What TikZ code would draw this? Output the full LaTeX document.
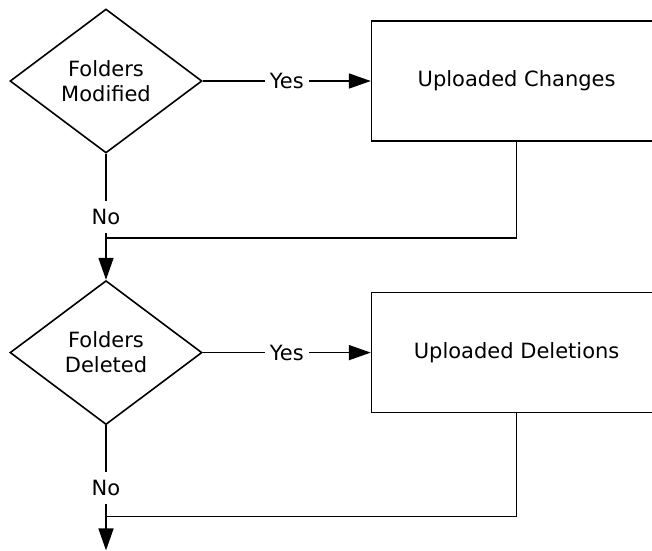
\documentclass[tikz,border=0pt]{standalone}
\usepackage{fontspec}
\setmainfont{DejaVu Sans}
\usetikzlibrary{shapes.geometric,positioning,arrows.meta}

\begin{document}
\begin{tikzpicture}[x=1pt, y=1pt,
    font=\fontsize{21}{25}\selectfont,
    line width=1.6pt,
    >={Triangle[length=22pt,width=15pt]},
    decision/.style={diamond, draw, aspect=1.333,
                     minimum width=192pt, minimum height=144pt,
                     inner sep=0pt, align=center},
    process/.style={rectangle, draw,
                    minimum width=290pt, minimum height=120pt},
    answer/.style={fill=white, inner xsep=5pt, inner ysep=8pt}]
   \clip (0,0) rectangle (652,-550);
   \node[decision] (fm) at (106,-81) {Folders\\Modified};
   \node[process,
         right=168pt of fm] (uc) {Uploaded Changes};
   \node[decision,
         below=126pt of fm] (fd) {Folders\\Deleted};
   \node[process,
         right=168pt of fd] (ud) {Uploaded Deletions};
   \coordinate[below=84pt of fm.south] (j1);
   \coordinate[below=91pt of fd.south] (j2);
   \coordinate[below=125pt of fd.south] (out);
   % yes / no branches
   \draw[->] (fm.east) -- node[answer] {Yes} (uc.west);
   \draw[->] (fm.south) -- node[answer] {No} (fd.north);
   \draw[->] (fd.east) -- node[answer] {Yes} (ud.west);
   \draw[->] (fd.south) -- node[answer] {No} (out);
   % back to the main line
   \draw (uc.south) |- (j1);
   \draw (ud.south) |- (j2);
\end{tikzpicture}
\end{document}
